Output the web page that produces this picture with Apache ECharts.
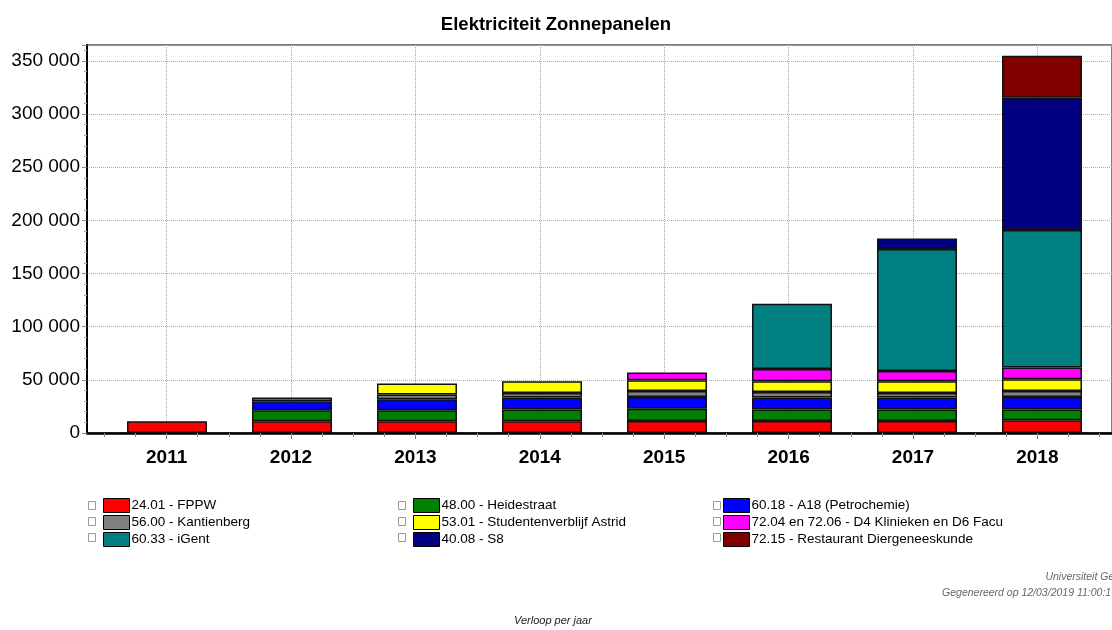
<!DOCTYPE html>
<html>
<head>
<meta charset="utf-8">
<script src="https://cdn.jsdelivr.net/npm/echarts@6/dist/echarts.min.js"></script>
<style>
  html, body { margin: 0; padding: 0; background: #fff; }
  #chart { width: 1112px; height: 630px; }
</style>
</head>
<body>
<div id="chart"></div>
<script>
// data (kWh per year)
const years = [2011, 2012, 2013, 2014, 2015, 2016, 2017, 2018];
const fppw        = [11000, 11000, 11000, 11000, 11300, 11300, 11300, 12000];
const heidestraat = [null, 10400, 10400, 11000, 11600, 10700, 10700, 10000];
const a18         = [null, 8400, 10300, 11300, 11000, 11300, 11300, 11900];
const kantienberg = [null, 3500, 4500, 4400, 5700, 5300, 4400, 5700];
const astrid      = [null, null, 10300, 11000, 10000, 10100, 11000, 10900];
const d4          = [null, null, null, null, 7200, 11600, 9700, 11000];
const igent       = [null, null, null, null, null, 61200, 114600, 129400];
const s8          = [null, null, null, null, null, null, 10000, 124500];
const restaurant  = [null, null, null, null, null, null, null, 39600];
const yTicks = [0, 50000, 100000, 150000, 200000, 250000, 300000, 350000];

const FONT = "'Liberation Sans', Arial, sans-serif";
const Y_MAX = 365000;

const seriesDefs = [
  { name: '24.01 - FPPW', color: '#ff0000', values: fppw },
  { name: '48.00 - Heidestraat', color: '#008000', values: heidestraat },
  { name: '60.18 - A18 (Petrochemie)', color: '#0000ff', values: a18 },
  { name: '56.00 - Kantienberg', color: '#808080', values: kantienberg },
  { name: '53.01 - Studentenverblijf Astrid', color: '#ffff00', values: astrid },
  { name: '72.04 en 72.06 - D4 Klinieken en D6 Facu', color: '#ff00ff', values: d4 },
  { name: '60.33 - iGent', color: '#008080', values: igent },
  { name: '40.08 - S8', color: '#000080', values: s8 },
  { name: '72.15 - Restaurant Diergeneeskunde', color: '#800000', values: restaurant },
];

// quarter-year minor ticks on the x axis
const quarterTicks = [];
for (let q = 2010.5; q <= 2018.5; q += 0.25) quarterTicks.push(q);

const fmt = (v) => String(v).replace(/\B(?=(\d{3})+(?!\d))/g, ' ');

const legendBase = {
  orient: 'vertical',
  top: 498,
  padding: 0,
  itemWidth: 26,
  itemHeight: 14,
  itemGap: 2,
  icon: 'rect',
  itemStyle: { borderColor: '#000', borderWidth: 1 },
  textStyle: { fontFamily: FONT, fontSize: 13.5, color: '#000', lineHeight: 14, padding: [0, 0, 0, -3] },
};

// little grey page icons in front of each legend row
const legendIcons = [];
[88, 398, 713].forEach((x) => {
  [501, 517, 533].forEach((y) => {
    legendIcons.push({
      type: 'rect', left: x, top: y,
      shape: { width: 7, height: 8 },
      style: { fill: '#fff', stroke: '#999', lineWidth: 1 },
    });
  });
});

const chart = echarts.init(document.getElementById('chart'), null, { renderer: 'canvas' });

chart.setOption({
  animation: false,
  backgroundColor: '#fff',
  title: {
    text: 'Elektriciteit Zonnepanelen',
    left: 551,
    textAlign: 'center',
    top: 10,
    textStyle: { fontFamily: FONT, fontSize: 18.5, fontWeight: 'bold', color: '#000' },
  },
  grid: [
    // frame, axes and grid lines
    { left: 87, top: 45, right: -5, bottom: 197, show: true, borderColor: '#555', borderWidth: 1.5 },
    // bars: 8 bands of 125 px centred on the year ticks
    { left: 104.5, top: 45, right: 7.5, bottom: 197 },
  ],
  legend: [
    Object.assign({ left: 103, data: [seriesDefs[0].name, seriesDefs[3].name, seriesDefs[6].name] }, legendBase),
    Object.assign({ left: 413, data: [seriesDefs[1].name, seriesDefs[4].name, seriesDefs[7].name] }, legendBase),
    Object.assign({ left: 723, data: [seriesDefs[2].name, seriesDefs[5].name, seriesDefs[8].name] }, legendBase),
  ],
  xAxis: [
    {
      gridIndex: 0,
      type: 'value',
      min: 2010.36,
      max: 2018.6,
      axisLine: { lineStyle: { color: '#000', width: 2.5 } },
      axisTick: { customValues: years, length: 6, lineStyle: { color: '#666' } },
      axisLabel: {
        customValues: years,
        formatter: (v) => String(v),
        fontFamily: FONT, fontSize: 19, fontWeight: 'bold', color: '#000', margin: 15,
      },
      splitLine: { show: true, lineStyle: { color: '#aaa', type: 'dotted' } },
    },
    {
      gridIndex: 0,
      type: 'value',
      position: 'bottom',
      min: 2010.36,
      max: 2018.6,
      axisLine: { show: false },
      axisTick: { customValues: quarterTicks, length: 4, lineStyle: { color: '#888' } },
      axisLabel: { show: false },
      splitLine: { show: false },
    },
    {
      gridIndex: 1,
      type: 'category',
      data: years.map(String),
      show: false,
    },
  ],
  yAxis: [
    {
      gridIndex: 0,
      type: 'value',
      min: 0,
      max: Y_MAX,
      interval: 50000,
      axisLine: { show: true, lineStyle: { color: '#000', width: 2 } },
      axisTick: { show: true, length: 5, lineStyle: { color: '#888' } },
      minorTick: { show: true, splitNumber: 5, length: 3, lineStyle: { color: '#aaa' } },
      axisLabel: {
        fontFamily: FONT, fontSize: 19, color: '#000', margin: 7,
        formatter: (v) => (yTicks.indexOf(v) >= 0 ? fmt(v) : ''),
      },
      splitLine: { show: true, lineStyle: { color: '#aaa', type: 'dotted' } },
    },
    {
      gridIndex: 1,
      type: 'value',
      min: 0,
      max: Y_MAX,
      show: false,
      splitLine: { show: false },
    },
  ],
  series: seriesDefs.map((s) => ({
    name: s.name,
    type: 'bar',
    stack: 'total',
    xAxisIndex: 2,
    yAxisIndex: 1,
    barWidth: 80,
    data: s.values,
    itemStyle: { color: s.color, borderColor: '#111', borderWidth: 1.5 },
  })),
  graphic: legendIcons.concat([
    {
      type: 'text', right: -11, top: 572,
      style: { text: 'Universiteit Gent', font: 'italic 10.5px ' + FONT, fill: '#666', textAlign: 'right' },
    },
    {
      type: 'text', right: -5, top: 588,
      style: { text: 'Gegenereerd op 12/03/2019 11:00:16', font: 'italic 10.5px ' + FONT, fill: '#666', textAlign: 'right' },
    },
    {
      type: 'text', left: 514, top: 615,
      style: { text: 'Verloop per jaar', font: 'italic 11px ' + FONT, fill: '#222' },
    },
  ]),
});
</script>
</body>
</html>
